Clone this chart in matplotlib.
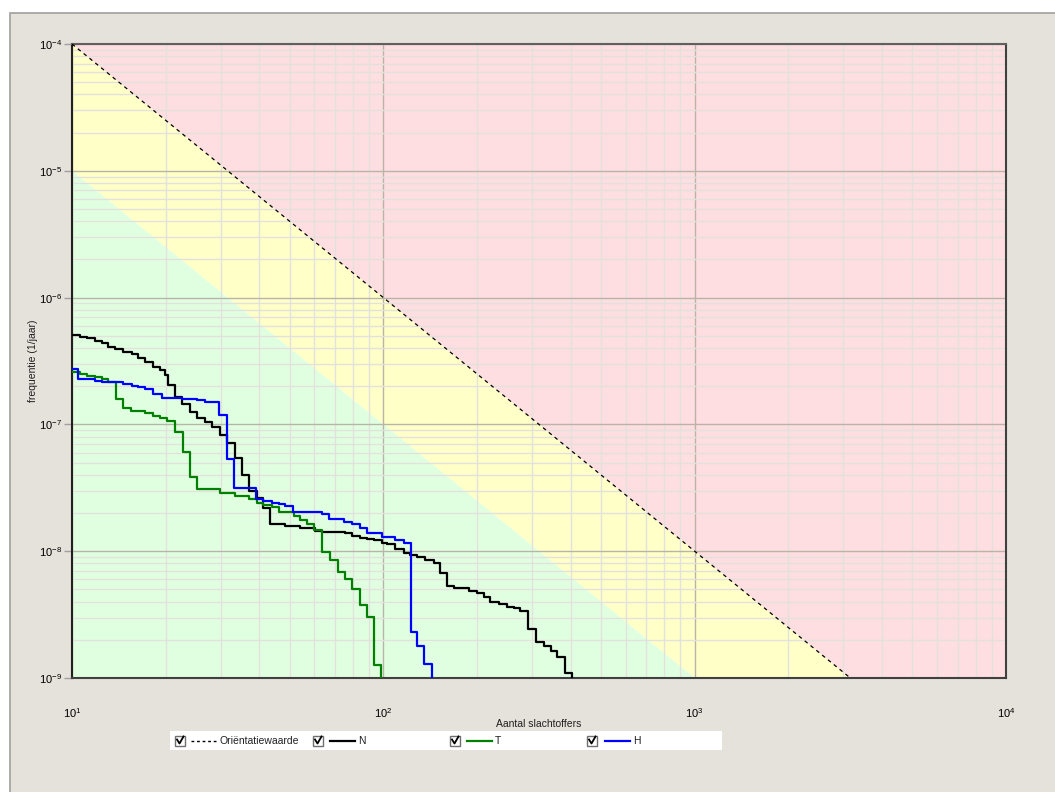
import numpy as np
import matplotlib
matplotlib.use("Agg")
import matplotlib.pyplot as plt
from matplotlib.patches import Rectangle
from matplotlib.ticker import LogLocator, NullFormatter

plt.rcParams['font.family'] = ['Liberation Sans', 'DejaVu Sans']
plt.rcParams['mathtext.default'] = 'regular'

# FN-curves: number of victims (step start) and frequency per year
n_x = [10, 10.6, 11.15, 11.86, 12.46, 13.08, 13.75, 14.62, 15.56, 16.34,
       17.17, 18.25, 19.19, 19.91, 20.4, 21.43, 22.53, 23.95, 25.18, 26.78,
       28.13, 29.9, 31.4, 33.4, 35.1, 36.9, 39.3, 41.2, 43.3, 48.4,
       54.1, 60.4, 63.5, 71.0, 75.5, 79.3, 84.3, 88.6, 93.1, 99.0,
       102.8, 109.3, 116.3, 122.1, 128.3, 136.5, 145.1, 152.5, 160.3, 168.3,
       188.1, 200.2, 210.2, 220.8, 234.8, 249.8, 262.4, 275.7, 292.0, 308.2,
       327.6, 344.4, 361.9, 382.8, 404.5]
n_f = [5.07e-7, 4.92e-7, 4.78e-7, 4.57e-7, 4.36e-7, 4.10e-7, 3.93e-7, 3.74e-7, 3.59e-7, 3.32e-7,
       3.12e-7, 2.85e-7, 2.69e-7, 2.45e-7, 2.05e-7, 1.65e-7, 1.44e-7, 1.26e-7, 1.12e-7, 1.04e-7,
       9.6e-8, 8.25e-8, 7.1e-8, 5.4e-8, 4.0e-8, 2.98e-8, 2.61e-8, 2.20e-8, 1.63e-8,
       1.58e-8, 1.53e-8, 1.44e-8, 1.42e-8, 1.41e-8, 1.38e-8, 1.32e-8, 1.28e-8, 1.25e-8, 1.23e-8,
       1.17e-8, 1.14e-8, 1.04e-8, 9.6e-9, 9.3e-9, 8.95e-9, 8.5e-9, 8.0e-9, 6.7e-9, 5.35e-9,
       5.1e-9, 4.85e-9, 4.71e-9, 4.38e-9, 4.0e-9, 3.84e-9, 3.65e-9, 3.55e-9, 3.40e-9, 2.42e-9,
       1.93e-9, 1.79e-9, 1.63e-9, 1.47e-9, 1.10e-9, 1e-10]

t_x = [10, 10.6, 11.15, 11.86, 12.46, 13.08, 13.82, 14.62, 15.48, 17.17,
       18.25, 19.19, 20.16, 21.43, 22.66, 23.95, 25.29, 29.9, 33.4, 36.9,
       39.3, 41.2, 43.86, 46.06, 51.5, 54.1, 56.9, 59.7, 63.5, 67.2,
       71.3, 75.5, 79.3, 83.9, 88.6, 93.5, 98.5]
t_f = [2.61e-7, 2.48e-7, 2.43e-7, 2.35e-7, 2.27e-7, 2.15e-7, 1.585e-7, 1.355e-7, 1.28e-7, 1.22e-7,
       1.17e-7, 1.12e-7, 1.06e-7, 8.7e-8, 6.1e-8, 3.87e-8, 3.08e-8, 2.89e-8, 2.72e-8, 2.58e-8,
       2.41e-8, 2.31e-8, 2.22e-8, 2.04e-8, 1.88e-8, 1.76e-8, 1.63e-8, 1.46e-8, 9.9e-9, 8.5e-9,
       6.8e-9, 6.0e-9, 5.0e-9, 3.77e-9, 3.04e-9, 1.27e-9, 1e-10]

h_x = [10, 10.48, 11.86, 12.46, 14.62, 15.56, 16.34, 17.17, 18.25, 19.43,
       22.53, 25.18, 26.78, 29.7, 31.4, 33.2, 39.05, 41.2, 43.86, 46.06,
       48.4, 51.25, 63.5, 66.7, 74.5, 79.3, 84.3, 88.6, 99.0, 109.3,
       116.3, 122.6, 128.3, 135.5, 143.4]
h_f = [2.73e-7, 2.27e-7, 2.21e-7, 2.15e-7, 2.07e-7, 2.01e-7, 1.96e-7, 1.89e-7, 1.73e-7, 1.62e-7,
       1.585e-7, 1.55e-7, 1.51e-7, 1.19e-7, 5.3e-8, 3.13e-8, 2.57e-8, 2.50e-8, 2.41e-8, 2.36e-8,
       2.29e-8, 2.02e-8, 1.96e-8, 1.81e-8, 1.71e-8, 1.64e-8, 1.52e-8, 1.38e-8, 1.29e-8, 1.23e-8,
       1.17e-8, 2.29e-9, 1.80e-9, 1.30e-9, 1e-10]

# orientation value (norm line) and lower boundary of the yellow zone
norm_x = [10, 10000]
norm_y = [1e-4, 1e-10]
low_y = [1e-5, 1e-11]

x_ticks = [10, 100, 1000, 10000]
x_labels = ['$10^{1}$', '$10^{2}$', '$10^{3}$', '$10^{4}$']
y_ticks = [1e-9, 1e-8, 1e-7, 1e-6, 1e-5, 1e-4]
y_labels = ['$10^{-9}$', '$10^{-8}$', '$10^{-7}$', '$10^{-6}$', '$10^{-5}$', '$10^{-4}$']

W, H = 1055, 792
fig = plt.figure(figsize=(W / 100, H / 100), dpi=100, facecolor='white')

# window panel + legend row, drawn in pixel coordinates
deco = fig.add_axes([0, 0, 1, 1], zorder=-1)
deco.set_xlim(0, W)
deco.set_ylim(H, 0)
deco.axis('off')
deco.add_patch(Rectangle((10, 13), W, H, facecolor='#E5E1DB', edgecolor='#A0A0A0', lw=1.2))
deco.add_patch(Rectangle((170, 731), 552, 19, facecolor='white', edgecolor='none'))

def checkbox(x, y):
    deco.add_patch(Rectangle((x, y - 5), 10, 10, facecolor='white', edgecolor='#707070', lw=1))
    deco.plot([x + 2, x + 4.5, x + 8.5], [y - 1, y + 3, y - 4], color='black', lw=1.3)

legend_items = [
    (175, 191, 216, 'Oriëntatiewaarde', 'black', (0, (2, 2)), 1.0),
    (313, 330, 355, 'N', 'black', '-', 1.6),
    (450, 467, 492, 'T', '#008000', '-', 1.6),
    (587, 605, 630, 'H', '#0000FF', '-', 1.6),
]
for cx, x0, x1, name, col, ls, lw in legend_items:
    checkbox(cx, 740.5)
    deco.plot([x0, x1], [740.5, 740.5], color=col, ls=ls, lw=lw)
    deco.text(x1 + 3, 741, name, fontsize=7.5, va='center', ha='left', color='#202020')

ax = fig.add_axes([72 / W, 1 - 678 / H, 934 / W, 634 / H])
ax.set_xscale('log')
ax.set_yscale('log')

ax.fill_between(norm_x, norm_y, 1e-3, color='#FFDEE1', lw=0, zorder=0)
ax.fill_between(norm_x, low_y, norm_y, color='#FFFFC8', lw=0, zorder=0)
ax.fill_between(norm_x, 1e-12, low_y, color='#E0FFE0', lw=0, zorder=0)

ax.plot(norm_x, norm_y, color='black', ls=(0, (3, 3)), lw=0.9, zorder=3)
ax.step(n_x, n_f, where='post', color='black', lw=1.6, zorder=4)
ax.step(t_x, t_f, where='post', color='#008000', lw=1.6, zorder=4)
ax.step(h_x, h_f, where='post', color='#0000FF', lw=1.6, zorder=4)

ax.set_xlim(10, 10000)
ax.set_ylim(1e-9, 1e-4)

ax.xaxis.set_minor_locator(LogLocator(base=10, subs=np.arange(2, 10)))
ax.yaxis.set_minor_locator(LogLocator(base=10, subs=np.arange(2, 10)))
ax.xaxis.set_minor_formatter(NullFormatter())
ax.yaxis.set_minor_formatter(NullFormatter())
ax.set_xticks(x_ticks, x_labels)
ax.set_yticks(y_ticks, y_labels)

ax.grid(which='minor', color='#E3E1DD', lw=1.0, zorder=1)
ax.grid(which='major', color='#B8B5A8', lw=1.0, zorder=1)

ax.tick_params(axis='x', which='major', length=0, pad=20, labelsize=8)
ax.tick_params(axis='y', which='major', length=6, color='#A0A0A0', width=1, pad=1, labelsize=8)
ax.tick_params(which='minor', length=0)

for side, col in [('left', '#202020'), ('bottom', '#404040'), ('top', '#606060'), ('right', '#404040')]:
    ax.spines[side].set_color(col)
    ax.spines[side].set_linewidth(1.5)

ax.set_xlabel('Aantal slachtoffers', fontsize=7.5, color='#202020')
ax.xaxis.set_label_coords(0.5, -0.064)
ax.set_ylabel('frequentie (1/jaar)', fontsize=7.5, color='#202020')
ax.yaxis.set_label_coords(-0.036, 0.5)

fig.savefig('out.png', dpi=100, facecolor=fig.get_facecolor())
